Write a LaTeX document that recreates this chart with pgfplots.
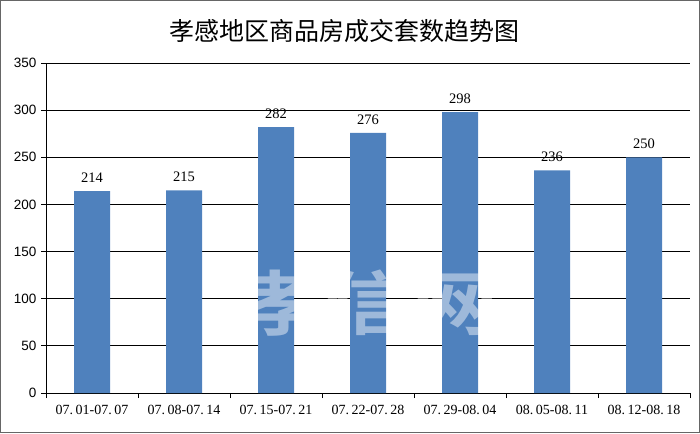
\documentclass[border=0pt]{standalone}
\usepackage{fontspec}
\setmainfont{Liberation Serif}
\newfontfamily\cjk{Noto Sans CJK SC}
\newfontfamily\cjkbold{Noto Sans CJK SC Bold}
\newfontfamily\arial{Liberation Sans}
\usepackage{pgfplots}
\pgfplotsset{compat=1.18}
\definecolor{barblue}{HTML}{4F81BD}
\begin{document}
\begin{tikzpicture}
\begin{axis}[
  at={(0pt,0pt)}, anchor=south west,
  scale only axis, width=644pt, height=330pt,
  xmin=-0.5, xmax=6.5, ymin=0, ymax=350,
  ytick={0,50,...,350},
  xtick={0,...,6},
  xticklabels={07.\hspace{2.5pt}01-07.\hspace{2.5pt}07,07.\hspace{2.5pt}08-07.\hspace{2.5pt}14,07.\hspace{2.5pt}15-07.\hspace{2.5pt}21,07.\hspace{2.5pt}22-07.\hspace{2.5pt}28,07.\hspace{2.5pt}29-08.\hspace{2.5pt}04,08.\hspace{2.5pt}05-08.\hspace{2.5pt}11,08.\hspace{2.5pt}12-08.\hspace{2.5pt}18},
  minor xtick={-0.5,0.5,...,6.5},
  major x tick style={draw=none},
  minor tick length=5pt,
  major tick length=5pt,
  tick align=outside,
  xtick pos=bottom, ytick pos=left,
  axis x line*=bottom, axis y line*=left,
  axis line style={black, line width=0.8pt, -},
  tick style={black, line width=0.8pt},
  ymajorgrids, grid style={black, line width=0.8pt},
  y tick label style={font=\arial\fontsize{13.5}{14}\selectfont, xshift=-1pt},
  x tick label style={font=\fontsize{14}{15}\selectfont, yshift=-4pt},
  /pgf/number format/assume math mode=true,
  clip=false,
]
\addplot[ybar, bar width=36pt, fill=barblue, draw=none,
  nodes near coords, every node near coord/.append style={font=\fontsize{14.5}{15}\selectfont, black, yshift=5pt}]
  coordinates {(0,214) (1,215) (2,282) (3,276) (4,298) (5,236) (6,250)};
\end{axis}
\node[font=\cjkbold\fontsize{70}{72}\selectfont, text=white, opacity=0.45, xscale=1.25] at (322pt,90pt) {孝信网};
\node[font=\cjk\fontsize{25}{26}\selectfont, anchor=center] at (298pt,362pt) {孝感地区商品房成交套数趋势图};
\draw[gray!80!black, line width=1pt] (-45.5pt,-39.5pt) rectangle (653.5pt,392.5pt);
\end{tikzpicture}
\end{document}
